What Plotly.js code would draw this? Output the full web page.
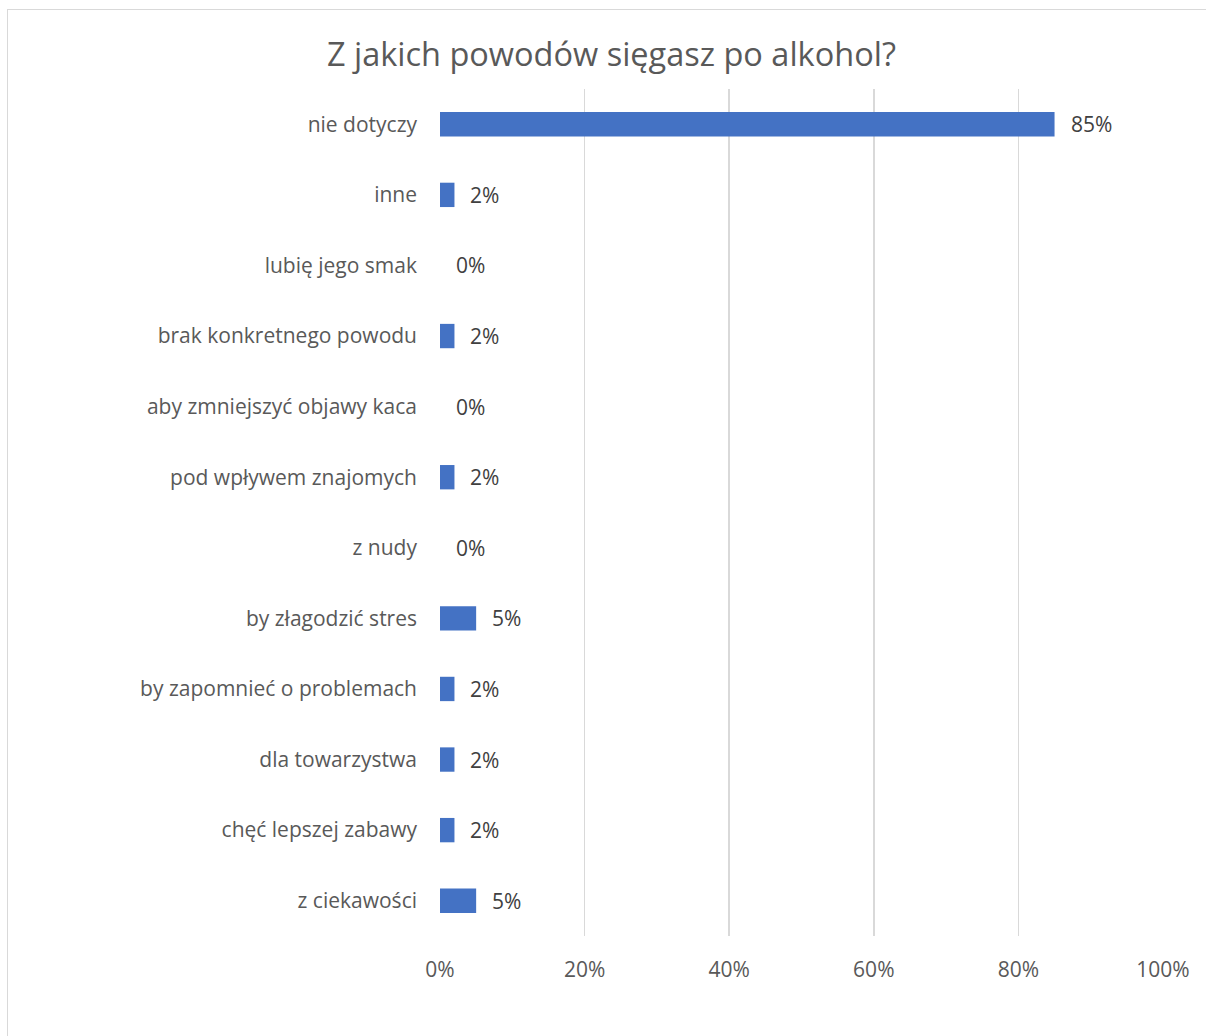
<!DOCTYPE html>
<html>
<head>
<meta charset="utf-8">
<script src="https://cdn.plot.ly/plotly-3.0.1.min.js"></script>
<style>
html,body{margin:0;padding:0;overflow:hidden;background:#fff;}
#frame{position:absolute;left:7px;top:9px;width:1300px;height:1100px;border:1.5px solid #d9d9d9;box-sizing:border-box;}
#chart{position:absolute;left:0;top:0;width:1206px;height:1036px;}
</style>
</head>
<body>
<div id="frame"></div>
<div id="chart"></div>
<script>
const categories = [
  "nie dotyczy",
  "inne",
  "lubię jego smak",
  "brak konkretnego powodu",
  "aby zmniejszyć objawy kaca",
  "pod wpływem znajomych",
  "z nudy",
  "by złagodzić stres",
  "by zapomnieć o problemach",
  "dla towarzystwa",
  "chęć lepszej zabawy",
  "z ciekawości"
];
const values = [85, 2, 0, 2, 0, 2, 0, 5, 2, 2, 2, 5];
const xTickVals = [0, 20, 40, 60, 80, 100];
const xTickText = ["0%", "20%", "40%", "60%", "80%", "100%"];
const titleText = "Z jakich powodów sięgasz po alkohol?";

const FONT = "Open Sans, Noto Sans, sans-serif";

const trace = {
  type: "bar",
  orientation: "h",
  x: values,
  y: categories,
  marker: {color: "#4472C4"},
  hoverinfo: "skip"
};

const annotations = categories.map((c, i) => ({
  x: values[i],
  y: c,
  xref: "x",
  yref: "y",
  text: values[i] + "%",
  showarrow: false,
  xanchor: "left",
  yanchor: "middle",
  xshift: 14,
  font: {family: FONT, size: 21, color: "#404040"}
}));

const layout = {
  width: 1206,
  height: 1036,
  paper_bgcolor: "rgba(0,0,0,0)",
  plot_bgcolor: "rgba(0,0,0,0)",
  margin: {l: 439.5, r: 43.3, t: 89, b: 100, pad: 0},
  showlegend: false,
  bargap: 0.655,
  title: {
    text: titleText,
    x: 0.507,
    xanchor: "center",
    y: 0.947,
    yanchor: "middle",
    font: {family: FONT, size: 32.5, color: "#595959"}
  },
  xaxis: {
    range: [0, 100],
    tickvals: xTickVals,
    ticktext: xTickText,
    showgrid: true,
    gridcolor: "#d9d9d9",
    gridwidth: 1.5,
    zeroline: false,
    showline: false,
    ticks: "",
    ticklabelstandoff: 19,
    tickfont: {family: FONT, size: 21, color: "#595959"},
    fixedrange: true
  },
  yaxis: {
    autorange: "reversed",
    showgrid: false,
    zeroline: false,
    showline: false,
    ticks: "",
    ticklabelstandoff: 22,
    tickfont: {family: FONT, size: 21, color: "#595959"},
    fixedrange: true
  },
  annotations: annotations
};

Plotly.newPlot("chart", [trace], layout, {displayModeBar: false, staticPlot: true});
</script>
</body>
</html>
